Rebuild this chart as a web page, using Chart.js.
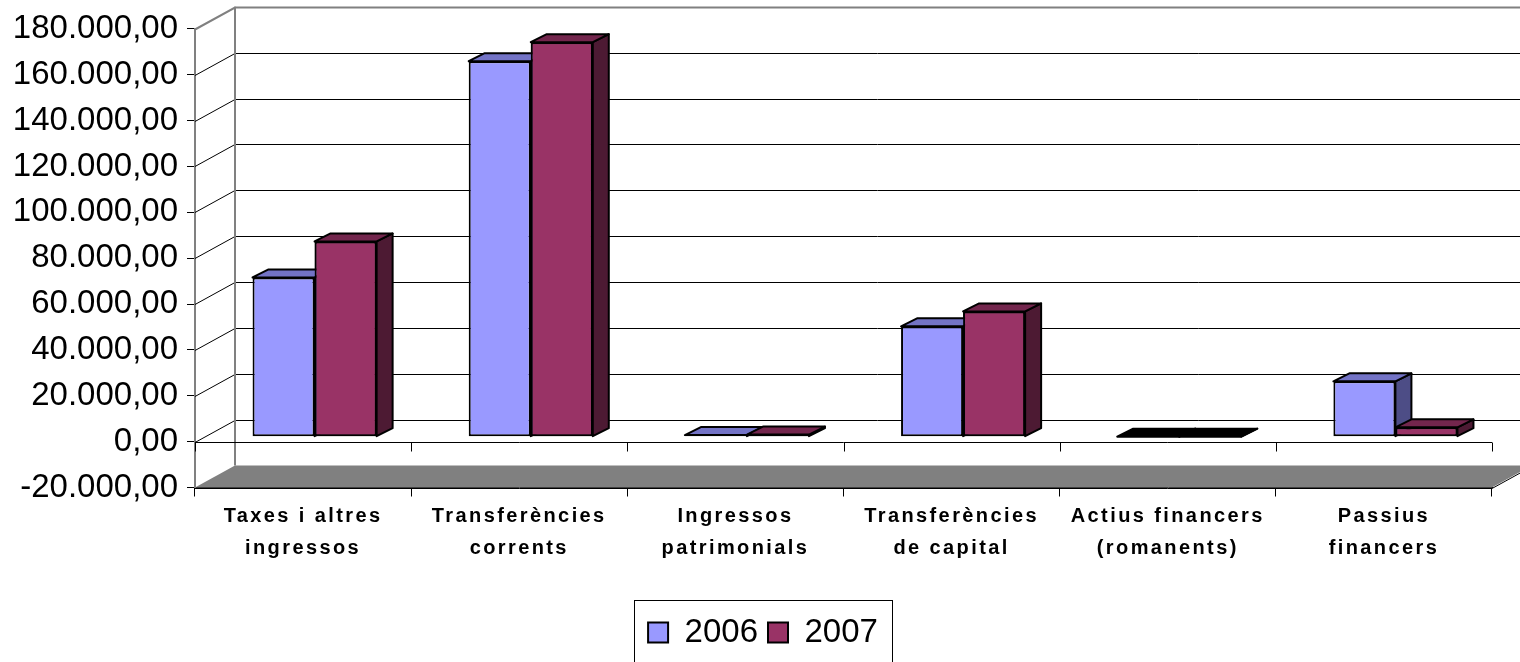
<!DOCTYPE html>
<html>
<head>
<meta charset="utf-8">
<script src="https://cdn.jsdelivr.net/npm/chart.js@4.4.0/dist/chart.umd.min.js"></script>
<style>
  html, body { margin: 0; padding: 0; background: #fff; }
</style>
</head>
<body>
<canvas id="chart" width="1520" height="662"></canvas>
<script>
// data
const categories = [
  ['Taxes i altres', 'ingressos'],
  ['Transferències', 'corrents'],
  ['Ingressos', 'patrimonials'],
  ['Transferències', 'de capital'],
  ['Actius financers', '(romanents)'],
  ['Passius', 'financers']
];
const seriesNames = ['2006', '2007'];
const values2006 = [69400, 163700, 700, 48100, 0, 24100];
const values2007 = [85100, 172000, 900, 54600, 0, 4050];
const yMin = -20000;
const yMax = 180000;
const yStep = 20000;

// 3d look
const WALL = { x: 40, y: -22 };      // depth of the walls
const SHIFT = { x: 11.5, y: -5 };    // bars sit a bit inside the box
const BAR = { x: 16, y: -8 };        // depth of a bar
const faces = [
  { front: '#9999FF', top: '#7373C6', side: '#4D4D86' },
  { front: '#993366', top: '#73264D', side: '#4D1A33' }
];

function fmt(v) {
  const parts = Math.abs(v).toFixed(2).split('.');
  const intPart = parts[0].replace(/\B(?=(\d{3})+(?!\d))/g, '.');
  return (v < 0 ? '-' : '') + intPart + ',' + parts[1];
}

function drawBarFaces(ctx, el, colors, zero) {
  const { x, y, base, width } = el.getProps(['x', 'y', 'base', 'width'], true);
  const l = x - width / 2, r = x + width / 2;
  const t = Math.min(y, base), b = Math.max(y, base);
  ctx.lineWidth = 2;
  ctx.strokeStyle = '#000';
  ctx.lineJoin = 'round';
  ctx.fillStyle = zero ? '#000' : colors.side;
  ctx.beginPath();
  ctx.moveTo(r, b); ctx.lineTo(r, t);
  ctx.lineTo(r + BAR.x, t + BAR.y); ctx.lineTo(r + BAR.x, b + BAR.y);
  ctx.closePath();
  ctx.fill(); ctx.stroke();
  ctx.fillStyle = zero ? '#000' : colors.top;
  ctx.beginPath();
  ctx.moveTo(l, t); ctx.lineTo(r, t);
  ctx.lineTo(r + BAR.x, t + BAR.y); ctx.lineTo(l + BAR.x, t + BAR.y);
  ctx.closePath();
  ctx.fill(); ctx.stroke();
}

const box3d = {
  id: 'box3d',
  afterLayout(chart) {
    // the legend sits a little right of the middle
    chart.legend.left += 34;
    // spaced out category labels
    const xs = chart.scales.x;
    if (!xs._spaced) {
      const orig = xs.drawLabels;
      xs.drawLabels = function (area) {
        this.ctx.save();
        this.ctx.letterSpacing = '2.4px';
        orig.call(this, area);
        this.ctx.restore();
      };
      xs._spaced = true;
    }
  },
  beforeDatasetsDraw(chart) {
    const { ctx, chartArea: a, scales: { x, y } } = chart;
    const bottom = y.getPixelForValue(yMin);
    const top = y.getPixelForValue(yMax);
    ctx.save();
    // floor
    ctx.fillStyle = '#808080';
    ctx.beginPath();
    ctx.moveTo(a.left, bottom); ctx.lineTo(a.right, bottom);
    ctx.lineTo(a.right + WALL.x, bottom + WALL.y);
    ctx.lineTo(a.left + WALL.x, bottom + WALL.y);
    ctx.closePath();
    ctx.fill();
    // grid on the back and side walls
    y.ticks.forEach(t => {
      if (t.value === yMin) return;
      const py = Math.round(y.getPixelForValue(t.value)) + 0.5;
      const isTop = t.value === yMax;
      ctx.strokeStyle = isTop ? '#808080' : '#000';
      ctx.lineWidth = isTop ? 2 : 1;
      ctx.beginPath();
      ctx.moveTo(a.left, py);
      ctx.lineTo(a.left + WALL.x, py + WALL.y);
      ctx.lineTo(chart.width, py + WALL.y);
      ctx.stroke();
    });
    // back wall left edge
    ctx.strokeStyle = '#808080';
    ctx.lineWidth = 2;
    ctx.beginPath();
    ctx.moveTo(a.left + WALL.x, top + WALL.y);
    ctx.lineTo(a.left + WALL.x, bottom + WALL.y);
    ctx.stroke();
    // front edge of the floor and its right side
    ctx.strokeStyle = '#000';
    ctx.lineWidth = 1;
    const fb = Math.round(bottom) + 0.5;
    ctx.beginPath();
    ctx.moveTo(a.left, fb); ctx.lineTo(a.right, fb);
    ctx.lineTo(a.right + WALL.x, fb + WALL.y);
    ctx.stroke();
    // zero line with its ticks
    const z = Math.round(y.getPixelForValue(0)) + 0.5;
    ctx.beginPath();
    ctx.moveTo(a.left, z); ctx.lineTo(a.right, z);
    for (let i = 0; i <= categories.length; i++) {
      const px = Math.round(x.getPixelForValue(i - 0.5)) + 0.5;
      ctx.moveTo(px, z); ctx.lineTo(px, z + 9);
    }
    ctx.stroke();
    ctx.restore();

    // fronts of the bars are drawn by chart.js, pushed into the box
    ctx.save();
    ctx.translate(SHIFT.x, SHIFT.y);
  },
  afterDatasetsDraw(chart) {
    const { ctx } = chart;
    const m0 = chart.getDatasetMeta(0);
    const m1 = chart.getDatasetMeta(1);
    for (let i = 0; i < categories.length; i++) {
      drawBarFaces(ctx, m0.data[i], faces[0], values2006[i] === 0);
      m1.data[i].draw(ctx);
      drawBarFaces(ctx, m1.data[i], faces[1], values2007[i] === 0);
    }
    ctx.restore();
  },
  afterDraw(chart) {
    // frame round the legend
    const lg = chart.legend;
    if (!lg || !lg.lineWidths) return;
    const pad = lg.options.labels.padding;
    const w = lg.lineWidths[0];
    const x0 = (lg.left + pad + lg.right - w) / 2;
    const left = x0 - 14;
    const right = x0 + w - pad + 14;
    const ctx = chart.ctx;
    ctx.save();
    ctx.strokeStyle = '#000';
    ctx.lineWidth = 1;
    ctx.strokeRect(Math.round(left) + 0.5, Math.round(lg.top) - 5.5, Math.round(right - left), chart.height);
    ctx.restore();
  }
};

new Chart(document.getElementById('chart'), {
  type: 'bar',
  data: {
    labels: categories,
    datasets: [
      {
        label: seriesNames[0],
        data: values2006,
        backgroundColor: faces[0].front,
        borderColor: '#000',
        borderWidth: 2,
        borderSkipped: false
      },
      {
        label: seriesNames[1],
        data: values2007,
        backgroundColor: faces[1].front,
        borderColor: '#000',
        borderWidth: 2,
        borderSkipped: false
      }
    ]
  },
  options: {
    responsive: false,
    animation: false,
    events: [],
    categoryPercentage: 0.574,
    barPercentage: 1,
    layout: { padding: { top: 28, right: 28, bottom: 3, left: 0 } },
    plugins: {
      tooltip: { enabled: false },
      legend: {
        position: 'bottom',
        labels: {
          color: '#000',
          font: { family: 'Liberation Sans', size: 33 },
          boxWidth: 20,
          boxHeight: 20,
          padding: 10
        }
      }
    },
    scales: {
      x: {
        afterFit: (s) => { s.height = 118.5; },
        border: { display: true, color: '#000', width: 1 },
        grid: { offset: true, drawOnChartArea: false, drawTicks: true, tickLength: 9, color: '#000' },
        ticks: {
          autoSkip: false,
          maxRotation: 0,
          padding: 4,
          color: '#000',
          font: { family: 'Liberation Sans', size: 20, weight: 'bold', lineHeight: 1.6 }
        }
      },
      y: {
        min: yMin,
        max: yMax,
        afterFit: (s) => { s.width = 195; },
        border: { display: true, color: '#808080', width: 2 },
        grid: { drawOnChartArea: false, drawTicks: true, tickLength: 8, color: '#000' },
        ticks: {
          stepSize: yStep,
          padding: 9,
          color: '#000',
          font: { family: 'Liberation Sans', size: 33 },
          callback: (v) => fmt(v)
        }
      }
    }
  },
  plugins: [box3d]
});
</script>
</body>
</html>
